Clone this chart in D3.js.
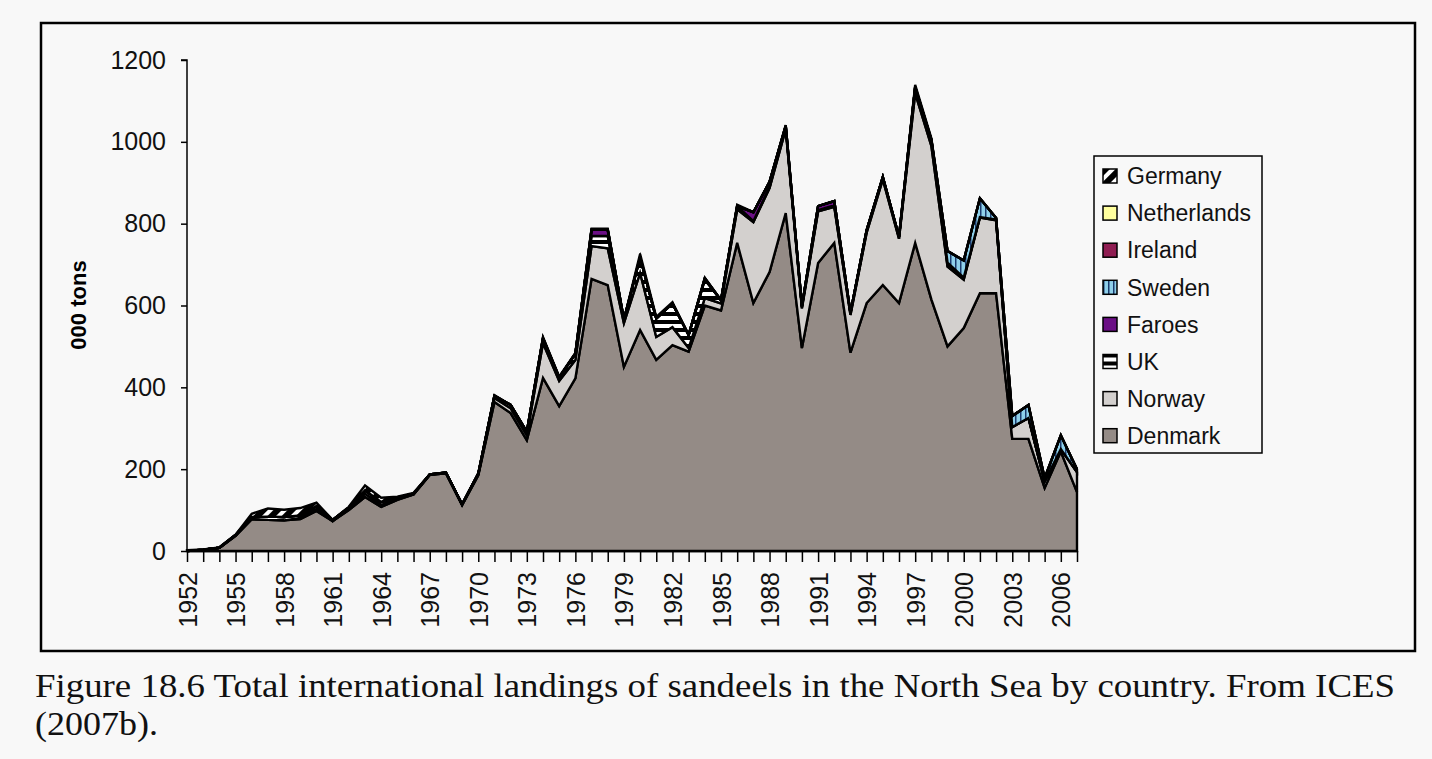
<!DOCTYPE html>
<html>
<head>
<meta charset="utf-8">
<script src="https://cdn.jsdelivr.net/npm/d3@7"></script>
<style>
  body { margin: 0; background: #f8f8f8; }
  svg { display: block; }
</style>
</head>
<body>
<div id="chart"></div>
<script>
// data (000 tons)
var years = d3.range(1952, 2008);
var countries = ["Denmark", "Norway", "UK", "Faroes", "Sweden", "Ireland", "Netherlands", "Germany"];

var denmark = [0, 3, 8, 37, 78, 76, 75, 78, 98, 73, 100, 132, 108, 125, 138, 186, 190, 112, 185, 364,
  337, 271, 423, 354, 422, 665, 650, 450, 540, 467, 503, 487, 600, 588, 753, 606, 682, 826, 496, 704,
  753, 485, 606, 650, 606, 753, 615, 500, 545, 630, 630, 274, 274, 154, 243, 144];
var norway = [0, 0, 0, 0, 0, 0, 0, 3, 5, 0, 3, 8, 5, 3, 0, 0, 0, 1, 2, 10,
  12, 12, 85, 62, 45, 80, 90, 107, 140, 56, 44, 9, 18, 17, 82, 198, 205, 205, 97, 126,
  88, 92, 172, 258, 157, 366, 375, 195, 118, 185, 178, 29, 51, 16, 6, 49];
var uk = [0, 0, 0, 2, 5, 8, 8, 6, 7, 3, 3, 8, 7, 3, 2, 1, 2, 1, 2, 5,
  8, 8, 12, 8, 15, 25, 30, 8, 38, 45, 58, 32, 45, 8, 8, 2, 3, 5, 5, 3,
  4, 5, 6, 6, 5, 15, 15, 5, 5, 1, 2, 0, 0, 0, 0, 0];
var faroes = [0, 0, 0, 0, 0, 0, 0, 0, 0, 0, 0, 0, 0, 0, 0, 0, 0, 0, 0, 0,
  0, 0, 0, 0, 0, 15, 15, 0, 0, 0, 0, 0, 3, 0, 0, 22, 12, 3, 0, 10,
  10, 0, 0, 0, 0, 0, 0, 5, 0, 0, 0, 0, 0, 0, 0, 0];
var sweden = [0, 0, 0, 0, 0, 0, 0, 0, 0, 0, 0, 0, 0, 0, 0, 0, 0, 0, 0, 0,
  0, 0, 0, 0, 0, 0, 0, 0, 0, 0, 0, 0, 0, 0, 0, 0, 0, 0, 0, 0,
  0, 0, 0, 0, 0, 0, 0, 28, 42, 46, 4, 27, 32, 8, 34, 7];
var ireland = [0, 0, 0, 0, 0, 0, 0, 0, 0, 0, 0, 0, 0, 0, 0, 0, 0, 0, 0, 0,
  0, 0, 0, 0, 0, 0, 0, 0, 0, 0, 0, 0, 0, 0, 0, 0, 0, 0, 0, 0,
  0, 0, 0, 0, 0, 0, 0, 0, 0, 0, 0, 0, 0, 0, 0, 0];
var netherlands = [0, 0, 0, 0, 0, 0, 0, 0, 0, 0, 0, 0, 0, 0, 0, 0, 0, 0, 0, 0,
  0, 0, 0, 0, 0, 0, 0, 0, 0, 0, 0, 0, 0, 0, 0, 0, 0, 0, 0, 0,
  0, 0, 0, 0, 0, 0, 0, 0, 0, 0, 0, 0, 0, 0, 0, 0];
var germany = [2, 1, 1, 1, 8, 20, 18, 18, 8, 0, 2, 12, 10, 2, 2, 0, 0, 0, 0, 2,
  0, 0, 3, 2, 2, 3, 3, 0, 8, 4, 3, 0, 2, 0, 3, 0, 0, 2, 0, 0,
  0, 0, 0, 0, 0, 5, 4, 0, 0, 0, 0, 0, 0, 0, 0, 0];
var yTicks = [0, 200, 400, 600, 800, 1000, 1200];
var xLabelYears = d3.range(1952, 2008, 3);

var series = {
  Denmark: denmark, Norway: norway, UK: uk, Faroes: faroes,
  Sweden: sweden, Ireland: ireland, Netherlands: netherlands, Germany: germany
};

var table = years.map(function(y, i) {
  var row = {year: y};
  countries.forEach(function(c) { row[c] = series[c][i]; });
  return row;
});

var sans = "'Liberation Sans', Arial, sans-serif";
var W = 1432, H = 759;
var svg = d3.select("#chart").append("svg")
  .attr("width", W)
  .attr("height", H);

var defs = svg.append("defs");

// Germany: diagonal black / white
var pg = defs.append("pattern")
  .attr("id", "pat-germany")
  .attr("patternUnits", "userSpaceOnUse")
  .attr("width", 10).attr("height", 10)
  .attr("patternTransform", "rotate(-45)");
pg.append("rect").attr("width", 10).attr("height", 10).attr("fill", "#000");
pg.append("rect").attr("width", 10).attr("height", 4).attr("fill", "#fff");

// UK: horizontal black / white
var pu = defs.append("pattern")
  .attr("id", "pat-uk")
  .attr("patternUnits", "userSpaceOnUse")
  .attr("width", 8).attr("height", 8);
pu.append("rect").attr("width", 8).attr("height", 8).attr("fill", "#000");
pu.append("rect").attr("y", 4).attr("width", 8).attr("height", 4).attr("fill", "#fff");

// Sweden: vertical light blue with dark lines
var ps = defs.append("pattern")
  .attr("id", "pat-sweden")
  .attr("patternUnits", "userSpaceOnUse")
  .attr("width", 5).attr("height", 5);
ps.append("rect").attr("width", 5).attr("height", 5).attr("fill", "#8fd0ea");
ps.append("rect").attr("width", 1.5).attr("height", 5).attr("fill", "#1b3b6e");

var fills = {
  Denmark: "#948b86",
  Norway: "#d3d0ce",
  UK: "url(#pat-uk)",
  Faroes: "#6b0f85",
  Sweden: "url(#pat-sweden)",
  Ireland: "#8f1d52",
  Netherlands: "#ffff9e",
  Germany: "url(#pat-germany)"
};

// outer frame
svg.append("rect")
  .attr("x", 41).attr("y", 23)
  .attr("width", 1374).attr("height", 628)
  .attr("fill", "#f8f8f8")
  .attr("stroke", "#000")
  .attr("stroke-width", 2.5);

var x = d3.scaleLinear().domain([1952, 2007]).range([187, 1077]);
var y = d3.scaleLinear().domain([0, 1200]).range([551, 60]);

var stack = d3.stack().keys(countries);
var layers = stack(table);

var area = d3.area()
  .x(function(d) { return x(d.data.year); })
  .y0(function(d) { return y(d[0]); })
  .y1(function(d) { return y(d[1]); });

svg.append("g")
  .selectAll("path")
  .data(layers)
  .enter()
  .append("path")
  .attr("d", area)
  .attr("fill", function(d) { return fills[d.key]; })
  .attr("stroke", "#000")
  .attr("stroke-width", 2.4)
  .attr("stroke-linejoin", "miter");

// y axis
var yAxis = svg.append("g")
  .attr("transform", "translate(187,0)")
  .call(d3.axisLeft(y).tickValues(yTicks).tickSize(6).tickPadding(15)
    .tickFormat(d3.format("d")));
yAxis.select(".domain").attr("stroke-width", 1.5).attr("d", "M-6," + y(1200) + "H0V" + y(0));
yAxis.selectAll(".tick line").attr("stroke-width", 1.5);
yAxis.selectAll(".tick text")
  .style("font-family", sans)
  .style("font-size", "25px")
  .attr("fill", "#111");

// x axis
var xAxis = svg.append("g")
  .attr("transform", "translate(0,551)")
  .call(d3.axisBottom(x).tickValues(years).tickSize(11).tickSizeOuter(0)
    .tickFormat(function(d) { return xLabelYears.indexOf(d) >= 0 ? d : ""; }));
xAxis.select(".domain").attr("stroke-width", 1.5);
xAxis.selectAll(".tick line").attr("stroke-width", 1.5);
xAxis.selectAll(".tick text")
  .style("font-family", sans)
  .style("font-size", "25px")
  .attr("fill", "#111")
  .attr("transform", "rotate(-90)")
  .attr("text-anchor", "end")
  .attr("x", -21)
  .attr("y", 0)
  .attr("dy", "0.36em");

// y title
svg.append("text")
  .attr("transform", "translate(86,305) rotate(-90)")
  .attr("text-anchor", "middle")
  .style("font-family", sans)
  .style("font-size", "22px")
  .style("font-weight", "bold")
  .text("000 tons");

// legend
var legend = svg.append("g");
legend.append("rect")
  .attr("x", 1094).attr("y", 156)
  .attr("width", 168).attr("height", 297)
  .attr("fill", "#f8f8f8")
  .attr("stroke", "#000")
  .attr("stroke-width", 1.5);

var legendOrder = countries.slice().reverse();
var item = legend.selectAll(".item")
  .data(legendOrder)
  .enter()
  .append("g")
  .attr("class", "item")
  .attr("transform", function(d, i) { return "translate(1103," + (176 + i * 37.1) + ")"; });

item.append("rect")
  .attr("x", 0).attr("y", -7)
  .attr("width", 14).attr("height", 14)
  .attr("fill", function(d) { return fills[d]; })
  .attr("stroke", "#000")
  .attr("stroke-width", 1.5);

item.append("text")
  .attr("x", 24)
  .attr("y", 0)
  .attr("dy", "0.36em")
  .style("font-family", sans)
  .style("font-size", "23px")
  .attr("fill", "#111")
  .text(function(d) { return d; });

// caption
var caption = svg.append("g")
  .style("font-family", "'Liberation Serif', 'Times New Roman', serif")
  .style("font-size", "34px")
  .attr("fill", "#111");
caption.append("text").attr("x", 35).attr("y", 697)
  .attr("textLength", 1360)
  .attr("lengthAdjust", "spacingAndGlyphs")
  .text("Figure 18.6 Total international landings of sandeels in the North Sea by country. From ICES");
caption.append("text").attr("x", 35).attr("y", 735)
  .attr("textLength", 123)
  .attr("lengthAdjust", "spacingAndGlyphs")
  .text("(2007b).");
</script>
</body>
</html>
